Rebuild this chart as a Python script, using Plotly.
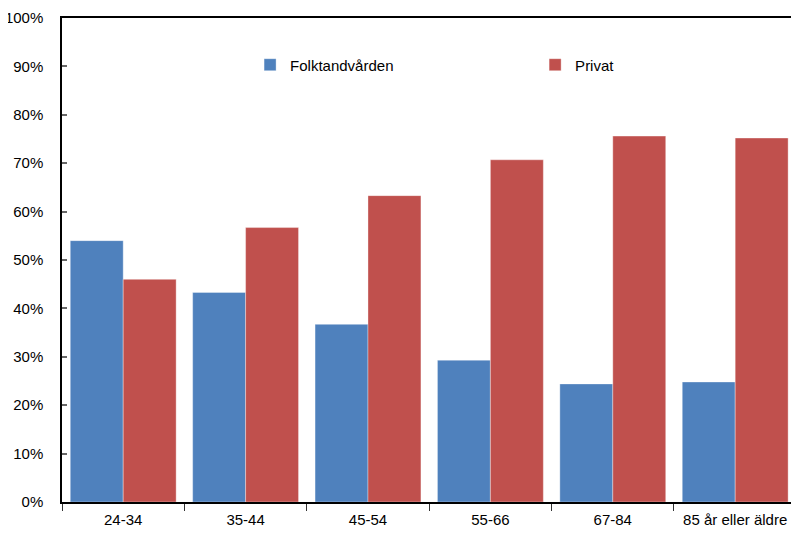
import plotly.graph_objects as go

categories = ["24-34", "35-44", "45-54", "55-66", "67-84", "85 år eller äldre"]
folktandvarden = [54.0, 43.3, 36.7, 29.3, 24.4, 24.8]
privat = [46.0, 56.7, 63.3, 70.7, 75.6, 75.2]
series_names = ["Folktandvården", "Privat"]
y_ticks = [0, 10, 20, 30, 40, 50, 60, 70, 80, 90, 100]
y_tick_labels = [f"{v}%" for v in y_ticks]

FONT = "Liberation Sans Narrow, Arial Narrow, Liberation Sans, Arial, sans-serif"
FS = 15

fig = go.Figure()
fig.add_trace(go.Bar(
    x=categories, y=folktandvarden, name=series_names[0], legend="legend",
    marker=dict(color="#4F81BD", line=dict(color="rgba(255,255,255,0.35)", width=1)),
))
fig.add_trace(go.Bar(
    x=categories, y=privat, name=series_names[1], legend="legend2",
    marker=dict(color="#C0504D", line=dict(color="rgba(255,255,255,0.35)", width=1)),
))

leg_common = dict(
    orientation="h", xanchor="left", y=0.903, yanchor="middle",
    bgcolor="rgba(0,0,0,0)", font=dict(family=FONT, size=FS, color="#000000"),
    itemclick=False,
)

fig.update_layout(
    width=783, height=519,
    margin=dict(l=54, r=0, t=10, b=25),
    paper_bgcolor="white", plot_bgcolor="white",
    barmode="group", bargap=0.135, bargroupgap=0,
    font=dict(family=FONT, size=FS, color="#000000"),
    showlegend=True,
    legend=dict(x=0.258, **leg_common),
    legend2=dict(x=0.649, **leg_common),
    xaxis=dict(
        range=[-0.5, 5.456], showline=True, linecolor="#000000", linewidth=1.5,
        mirror=True, ticks="outside", tickson="boundaries", ticklen=7,
        tickcolor="#333333", tickwidth=1, showgrid=False, zeroline=False,
        tickangle=0, automargin=False, ticklabeloverflow="allow",
        tickfont=dict(family=FONT, size=FS, color="#000000"),
        ticklabelstandoff=3,
    ),
    yaxis=dict(
        range=[0, 100], tickvals=y_ticks, ticktext=y_tick_labels,
        showline=True, linecolor="#000000", linewidth=1.5, mirror=False,
        ticks="inside", ticklen=5, tickcolor="#666666", tickwidth=1.5,
        showgrid=False, zeroline=False, automargin=False,
        ticklabeloverflow="allow",
        tickfont=dict(family=FONT, size=FS, color="#000000"),
        ticklabelstandoff=14,
    ),
)

fig.write_html("out.html")
